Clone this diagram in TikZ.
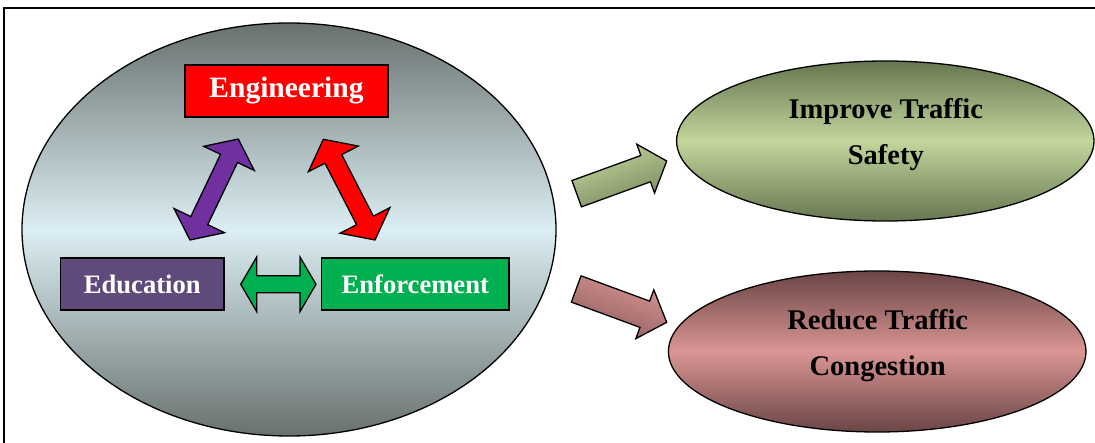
\documentclass[tikz,border=0pt]{standalone}
\usepackage{fontspec}
\setmainfont{Liberation Serif}
\usetikzlibrary{calc,shapes.geometric}

\definecolor{hubdark}{HTML}{68716F}
\definecolor{hublight}{HTML}{DBEEF3}
\definecolor{engred}{HTML}{FF0000}
\definecolor{edupurple}{HTML}{604A7B}
\definecolor{enfgreen}{HTML}{00B050}
\definecolor{arrpurple}{HTML}{7030A0}
\definecolor{safedark}{HTML}{667650}
\definecolor{safelight}{HTML}{C3D69B}
\definecolor{congdark}{HTML}{6B4545}
\definecolor{conglight}{HTML}{D99594}

% double-headed block arrow: style, tip A, tip B, half shaft, half head, head length
\newcommand\dblarrow[6]{%
  \path[#1] (#2)
    -- ($(#2)!#6!(#3)!#5!90:(#3)$) -- ($(#2)!#6!(#3)!#4!90:(#3)$)
    -- ($(#3)!#6!(#2)!#4!-90:(#2)$) -- ($(#3)!#6!(#2)!#5!-90:(#2)$)
    -- (#3)
    -- ($(#3)!#6!(#2)!#5!90:(#2)$) -- ($(#3)!#6!(#2)!#4!90:(#2)$)
    -- ($(#2)!#6!(#3)!#4!-90:(#3)$) -- ($(#2)!#6!(#3)!#5!-90:(#3)$)
    -- cycle;}
% single block arrow: style, tail A, tip B, half shaft, half head, head length
\newcommand\sglarrow[6]{%
  \path[#1] ($(#2)!#4!90:(#3)$)
    -- ($(#3)!#6!(#2)!#4!-90:(#2)$) -- ($(#3)!#6!(#2)!#5!-90:(#2)$)
    -- (#3)
    -- ($(#3)!#6!(#2)!#5!90:(#2)$) -- ($(#3)!#6!(#2)!#4!90:(#2)$)
    -- ($(#2)!#4!-90:(#3)$) -- cycle;}

\tikzset{
  outline/.style={draw=black, line width=1.3pt},
  pillar/.style={outline, rectangle, inner sep=0pt, minimum height=52pt,
    text=white, font=\bfseries\fontsize{26.6}{32}\selectfont},
  goal/.style={outline, ellipse, inner sep=0pt},
  goaltext/.style={anchor=base, inner sep=0pt, font=\bfseries\fontsize{28.5}{34}\selectfont},
  blockarrow/.style={outline, line join=miter},
}

\begin{document}
\begin{tikzpicture}[x=1pt, y=-1pt]
\useasboundingbox (0,0) rectangle (1095,443);

% outer frame
\begin{scope}
  \clip (0,0) rectangle (1095,443);
  \draw[line width=2pt] (4,8) rectangle (1110,460);
\end{scope}

% the three pillars
\node[goal, minimum width=534pt, minimum height=413pt,
      top color=hubdark, bottom color=hubdark, middle color=hublight] (hub) at (289,229.5) {};

\node[pillar, fill=engred, minimum width=203pt,
      font=\bfseries\fontsize{29.5}{34}\selectfont] (eng) at (286.5,91) {Engineering};
\node[pillar, fill=edupurple, minimum width=163.3pt] (edu) at (142.3,284) {Education};
\node[pillar, fill=enfgreen, minimum width=187.3pt] (enf) at (415.3,284) {Enforcement};

\coordinate (pa) at (190,240);   \coordinate (pb) at (238.3,139);
\coordinate (ra) at (323.3,139.3); \coordinate (rb) at (375,240);
\coordinate (ga) at (240.7,284.3); \coordinate (gb) at (316,284.3);

\dblarrow{blockarrow, fill=arrpurple}{pa}{pb}{9.4pt}{28pt}{21.5pt}
\dblarrow{blockarrow, fill=engred}{ra}{rb}{9.4pt}{28pt}{22pt}
\dblarrow{blockarrow, fill=enfgreen}{ga}{gb}{8.5pt}{27.3pt}{16pt}

% outcomes
\node[goal, minimum width=417.4pt, minimum height=160pt,
      top color=safedark, bottom color=safedark, middle color=safelight] (safe) at (885.3,141) {};
\node[goaltext] (safe1) at (885.8,119) {Improve Traffic};
\node[goaltext] (safe2) at (885.8,164.8) {Safety};

\node[goal, minimum width=417.6pt, minimum height=161pt,
      top color=congdark, bottom color=congdark, middle color=conglight] (cong) at (877.2,351.5) {};
\node[goaltext] (cong1) at (877.7,329.5) {Reduce Traffic};
\node[goaltext] (cong2) at (877.7,375.8) {Congestion};

\coordinate (sa) at (576.7,193.7); \coordinate (sb) at (666.7,161);
\coordinate (ca) at (576.2,289);   \coordinate (cb) at (666.7,322.3);

\sglarrow{blockarrow, top color=safelight, bottom color=safedark!80!safelight, shading angle=20}{sa}{sb}{14pt}{26pt}{22.4pt}
\sglarrow{blockarrow, top color=conglight, bottom color=congdark!70!conglight, shading angle=-20}{ca}{cb}{14pt}{26pt}{23.3pt}
\end{tikzpicture}
\end{document}
